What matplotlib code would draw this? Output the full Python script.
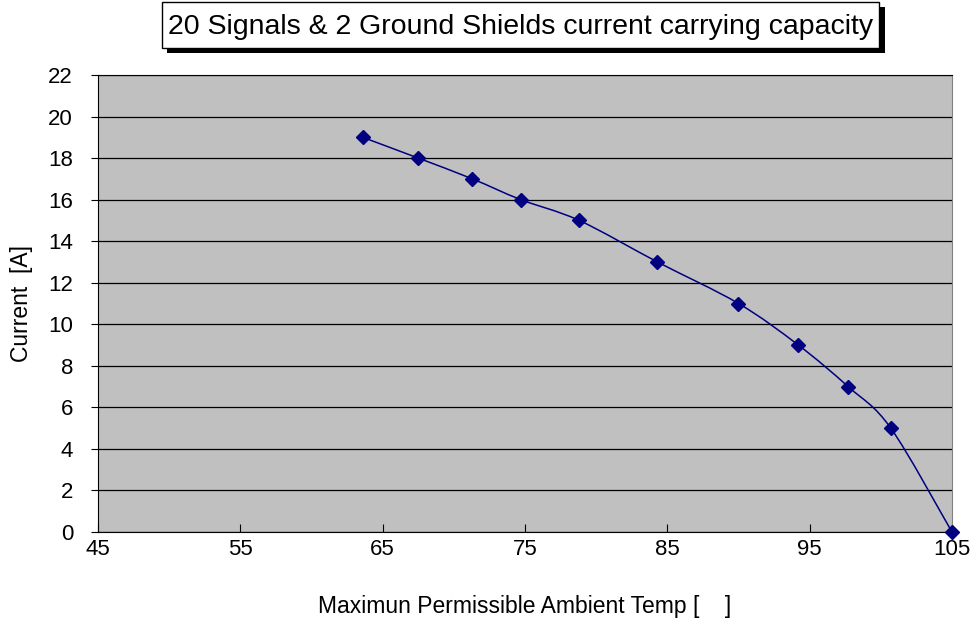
import numpy as np
import matplotlib.pyplot as plt
from matplotlib.path import Path
from matplotlib.patches import PathPatch, Rectangle

plt.rcParams['font.family'] = ['Liberation Sans', 'DejaVu Sans']

temp = [63.6, 67.5, 71.3, 74.7, 78.8, 84.3, 90.0, 94.2, 97.7, 100.7, 105.0]
current = [19, 18, 17, 16, 15, 13, 11, 9, 7, 5, 0]
x_ticks = [45, 55, 65, 75, 85, 95, 105]
y_ticks = list(range(0, 23, 2))

navy = '#000080'
W, H = 979, 624

fig = plt.figure(figsize=(9.79, 6.24), dpi=100)
ax = fig.add_axes([98 / W, 1 - 532 / H, (952 - 98) / W, (532 - 75) / H])
ax.set_facecolor('#c0c0c0')

# smoothed line (catmull-rom -> bezier, like excel's smoothed line)
pts = np.column_stack([temp, current])
verts = [pts[0]]
codes = [Path.MOVETO]
n = len(pts)
for i in range(n - 1):
    p0 = pts[max(i - 1, 0)]
    p1 = pts[i]
    p2 = pts[i + 1]
    p3 = pts[min(i + 2, n - 1)]
    c1 = p1 + (p2 - p0) / 6.0
    c2 = p2 - (p3 - p1) / 6.0
    verts += [c1, c2, p2]
    codes += [Path.CURVE4] * 3
ax.add_patch(PathPatch(Path(verts, codes), fill=False, edgecolor=navy, lw=1.1, zorder=3))
ax.plot(temp, current, linestyle='none', marker='D', markersize=7,
        color=navy, zorder=4, clip_on=False)

ax.set_xlim(45, 105)
ax.set_ylim(0, 22)
ax.set_xticks(x_ticks)
ax.set_yticks(y_ticks)
ax.yaxis.grid(True, color='black', lw=0.9)
ax.set_axisbelow(True)
ax.tick_params(axis='x', direction='in', length=6, labelsize=16, pad=5)
ax.tick_params(axis='y', direction='out', length=5, labelsize=16, pad=13)
for s in ['left', 'bottom', 'top']:
    ax.spines[s].set_color('black')
ax.spines['right'].set_color('#808080')

ax.set_xlabel('Maximun Permissible Ambient Temp [    ]', fontsize=16.5, labelpad=25)
ax.set_ylabel('Current  [A]', fontsize=16.5, labelpad=11)

# title box with shadow
fig.patches.append(Rectangle((167 / W, 1 - 53 / H), (885 - 167) / W, 46 / H,
                             transform=fig.transFigure, fc='black', ec='none', zorder=0))
fig.patches.append(Rectangle((162 / W, 1 - 48 / H), (879 - 162) / W, 46 / H,
                             transform=fig.transFigure, fc='white', ec='black', lw=1, zorder=1))
fig.text((162 + 879) / 2 / W, 1 - 27 / H, '20 Signals & 2 Ground Shields current carrying capacity',
         ha='center', va='center', fontsize=20.5, zorder=2)

fig.savefig('out.png', dpi=100)
